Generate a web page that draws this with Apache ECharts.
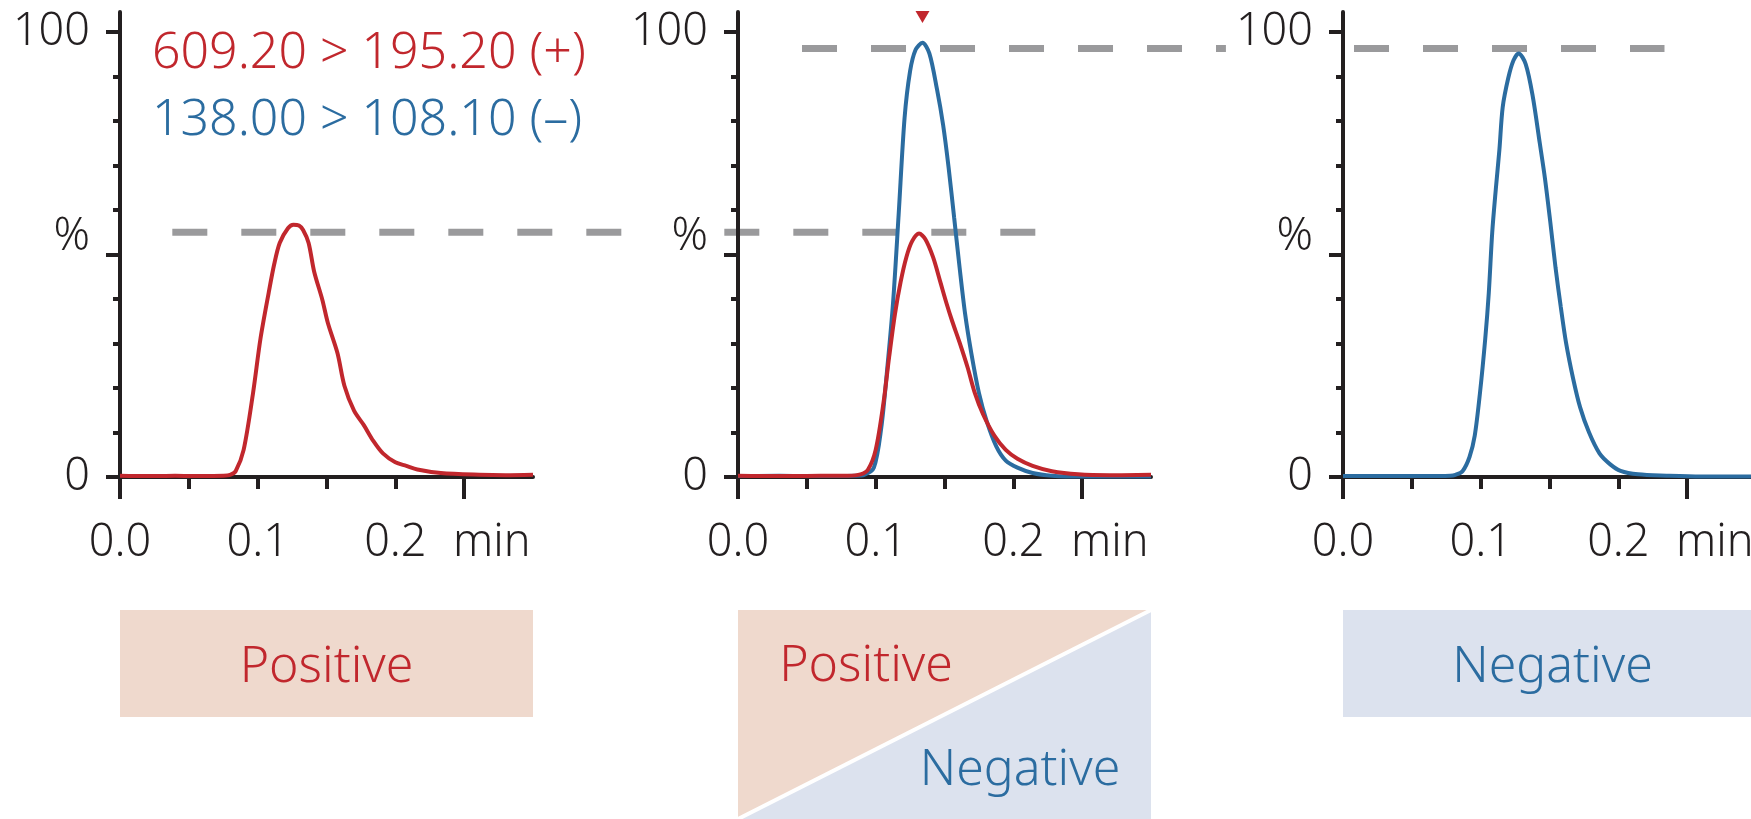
<!DOCTYPE html>
<html><head><meta charset="utf-8">
<style>html,body{margin:0;padding:0;background:#fff}#c{width:1751px;height:819px}</style>
<script src="https://cdn.jsdelivr.net/npm/echarts@6/dist/echarts.min.js"></script>
</head><body><div id="c"></div>
<script>
// ---------- data ----------
const seriesNames = ['609.20 > 195.20 (+)', '138.00 > 108.10 (–)'];
const p1Red = [[0,0.3],[0.02,0.2],[0.04,0.3],[0.06,0.2],[0.075,0.3],[0.08,0.5],[0.084,1.3],[0.0898,6.1],[0.0967,19],[0.102,31],[0.108,41.4],[0.112,47.8],[0.116,52.6],[0.122,55.9],[0.126,56.7],[0.13,56.5],[0.133,55.5],[0.137,52.6],[0.141,46.2],[0.147,39.8],[0.151,34.6],[0.158,27.8],[0.163,20.5],[0.17,14.9],[0.177,11.7],[0.184,8.1],[0.191,5.3],[0.2,3.3],[0.208,2.5],[0.216,1.7],[0.233,0.9],[0.261,0.5],[0.28,0.4],[0.3,0.5]];
const p2Blue = [[0,0.2],[0.03,0.3],[0.06,0.2],[0.085,0.3],[0.0917,0.5],[0.0987,2.1],[0.104,10.9],[0.108,23],[0.1126,39],[0.1167,59],[0.121,80.7],[0.125,91.2],[0.129,96],[0.134,97.6],[0.139,95.2],[0.1445,87.2],[0.149,79.1],[0.153,69.5],[0.157,58.3],[0.161,47],[0.165,36.6],[0.1695,27.8],[0.175,18.9],[0.1807,12.5],[0.1876,6.9],[0.1945,3.7],[0.203,2.1],[0.214,0.9],[0.228,0.3],[0.25,0.1],[0.3,0.1]];
const p2Red = [[0,0.3],[0.03,0.2],[0.06,0.3],[0.08,0.3],[0.089,0.6],[0.0945,1.7],[0.1,6.1],[0.1056,16.5],[0.1098,27],[0.114,36.6],[0.1181,43.8],[0.1223,49.4],[0.1265,53],[0.1315,54.7],[0.136,53.5],[0.1417,49.4],[0.147,43.8],[0.1515,39],[0.1556,35],[0.161,30.2],[0.1668,24.6],[0.172,18.9],[0.178,14.1],[0.1862,9.3],[0.1945,6.1],[0.203,4.1],[0.214,2.5],[0.228,1.3],[0.247,0.6],[0.27,0.4],[0.3,0.5]];
const p3Blue = [[0,0.2],[0.03,0.2],[0.06,0.2],[0.078,0.3],[0.0817,0.5],[0.0868,1.3],[0.0919,4.5],[0.0957,9.3],[0.0995,18.9],[0.1033,31],[0.1059,41.4],[0.1084,55],[0.111,64.7],[0.1136,73.5],[0.116,83.1],[0.12,89.6],[0.1238,93.6],[0.1276,95.2],[0.1327,92.8],[0.1378,85.6],[0.1429,75.1],[0.1467,67.1],[0.1505,57.5],[0.1544,47],[0.1582,38.2],[0.162,30.2],[0.1671,22.2],[0.1722,15.7],[0.1786,10.1],[0.1863,5.3],[0.1939,2.9],[0.2016,1.4],[0.2143,0.6],[0.235,0.3],[0.26,0.1],[0.3,0.1]];
const xLabelValues = [0, 0.1, 0.2];
const xTickLabels = ['0.0', '0.1', '0.2'];
const xUnitLabel = 'min';
const xUnitAt = 0.27;
const xMinorTicks = [0.05, 0.1, 0.15, 0.2];
const xMajorTicks = [0, 0.25];
const yLabelValues = [0, 50, 100];
const yTickLabels = ['0', '%', '100'];
const yMinorTicks = [10, 20, 30, 40, 60, 70, 80, 90];
const refLevels = [55, 96.3];          // dashed reference levels (%)
const refPanels = [0, 1];              // panel whose axes define the level
const refFrom = [0.038, 0.0465];       // x extent in that panel's minutes
const refTo = [0.665, 0.673];
const apexMarker = [0.134, 103.4];
const modeLabels = ['Positive', 'Negative'];

// ---------- style ----------
const AX = '#231f20', RED = '#c1272d', BLUE = '#2b6ca0', DASH = '#9a9a9c';
const PEACH = '#efd9cd', LBLUE = '#dce2ee';
const FONT = '"Noto Sans", "Open Sans", sans-serif';
const FW = 300;
const lefts = [120, 738, 1343], W = 413, TOP = 12, H = 465;

const grids = [], xAxes = [], yAxes = [];
lefts.forEach((l, i) => {
  grids.push({left: l, top: TOP, width: W, height: H, outerBoundsMode: 'none', containLabel: false});
  xAxes.push({
    type: 'value', gridIndex: i, min: 0, max: 0.3, position: 'bottom',
    axisLine: {show: true, onZero: false, lineStyle: {color: AX, width: 4}},
    axisTick: {show: true, length: 12, customValues: xMinorTicks, lineStyle: {color: AX, width: 4}},
    axisLabel: {show: true, customValues: xLabelValues.concat([xUnitAt]), fontSize: 45, fontWeight: FW, fontFamily: FONT, color: AX, margin: 44,
      formatter: v => { if (Math.abs(v - xUnitAt) < 1e-6) return xUnitLabel; const k = xLabelValues.findIndex(t => Math.abs(t - v) < 1e-6); return k >= 0 ? xTickLabels[k] : ''; }},
    splitLine: {show: false}
  });
  xAxes.push({
    type: 'value', gridIndex: i, min: 0, max: 0.3, position: 'bottom',
    axisLine: {show: false, onZero: false},
    axisTick: {show: true, length: 22, customValues: xMajorTicks, lineStyle: {color: AX, width: 4}},
    axisLabel: {show: false}, splitLine: {show: false}
  });
  yAxes.push({
    type: 'value', gridIndex: i, min: 0, max: 104.5, position: 'left',
    axisLine: {show: true, onZero: false, lineStyle: {color: AX, width: 4}},
    axisTick: {show: true, length: 7, customValues: yMinorTicks, lineStyle: {color: AX, width: 4}},
    axisLabel: {show: true, customValues: yLabelValues, fontSize: 45, fontWeight: FW, fontFamily: FONT, color: AX, margin: 22,
      backgroundColor: '#fff', padding: [0, 8, 0, 10],
      formatter: v => { const k = yLabelValues.indexOf(v); const s = k >= 0 ? yTickLabels[k] : ''; return s === '%' ? '{p|%}' : s; },
      rich: {p: {fontSize: 45, fontWeight: FW, fontFamily: FONT, color: AX, padding: [0, 0, 34, 16]}}},
    splitLine: {show: false}
  });
  yAxes.push({
    type: 'value', gridIndex: i, min: 0, max: 104.5, position: 'left',
    axisLine: {show: false, onZero: false},
    axisTick: {show: true, length: 14, customValues: yLabelValues, lineStyle: {color: AX, width: 4}},
    axisLabel: {show: false}, splitLine: {show: false}
  });
});

function lineSeries(name, data, panel, color, extra) {
  return Object.assign({
    type: 'line', name, data, xAxisIndex: 2 * panel, yAxisIndex: 2 * panel,
    showSymbol: false, symbol: 'none', smooth: 0.3, z: 3,
    lineStyle: {color, width: 4}, itemStyle: {color}
  }, extra || {});
}

const series = [
  lineSeries(seriesNames[0], p1Red, 0, RED),
  lineSeries(seriesNames[1], p2Blue, 1, BLUE, {
    markPoint: {symbol: 'triangle', symbolRotate: 180, symbolSize: [14, 12], itemStyle: {color: RED}, label: {show: false},
      data: [{coord: apexMarker}]}
  }),
  lineSeries(seriesNames[0], p2Red, 1, RED),
  lineSeries(seriesNames[1], p3Blue, 2, BLUE)
];

const chart = echarts.init(document.getElementById('c'), null, {renderer: 'canvas'});
chart.setOption({
  backgroundColor: '#fff',
  animation: false,
  grid: grids, xAxis: xAxes, yAxis: yAxes, series,
  legend: {
    orient: 'vertical', left: 142, top: 24, itemWidth: 0, itemHeight: 0, itemGap: 17, selectedMode: false,
    textStyle: {fontSize: 50, fontWeight: FW, fontFamily: FONT, lineHeight: 50},
    data: [{name: seriesNames[0], icon: 'rect', textStyle: {color: RED}}, {name: seriesNames[1], icon: 'rect', textStyle: {color: BLUE}}]
  }
});

// dashed reference lines across panels, via the library's scales
const gEls = [];
refLevels.forEach((lvl, i) => {
  const a = chart.convertToPixel({gridIndex: refPanels[i]}, [refFrom[i], lvl]);
  const b = chart.convertToPixel({gridIndex: refPanels[i]}, [refTo[i], lvl]);
  gEls.push({type: 'line', z: -1, silent: true,
    shape: {x1: a[0], y1: a[1], x2: b[0], y2: b[1]},
    style: {stroke: DASH, lineWidth: 7, lineDash: [35, 34], lineCap: 'butt'}});
});

// mode boxes below the panels
const boxTop = 610, boxH = 107, midH = 209;
const txt = (s, x, y, c) => ({type: 'text', x, y, z: 5, silent: true,
  style: {text: s, fill: c, fontSize: 50, fontWeight: FW, fontFamily: FONT, align: 'center', verticalAlign: 'middle'}});
const L0 = lefts[0], L1 = lefts[1], L2 = lefts[2];
gEls.push({type: 'rect', z: 1, silent: true, shape: {x: L0, y: boxTop, width: W, height: boxH}, style: {fill: PEACH}});
gEls.push(txt(modeLabels[0], L0 + W / 2, boxTop + boxH / 2 + 4, RED));
gEls.push({type: 'polygon', z: 1, silent: true, shape: {points: [[L1, boxTop], [L1 + W, boxTop], [L1, boxTop + midH]]}, style: {fill: PEACH}});
gEls.push({type: 'polygon', z: 1, silent: true, shape: {points: [[L1 + W, boxTop], [L1 + W, boxTop + midH], [L1, boxTop + midH]]}, style: {fill: LBLUE}});
gEls.push({type: 'line', z: 2, silent: true, shape: {x1: L1 + W, y1: boxTop, x2: L1, y2: boxTop + midH}, style: {stroke: '#fff', lineWidth: 4}});
gEls.push(txt(modeLabels[0], L1 + 128, boxTop + 57, RED));
gEls.push(txt(modeLabels[1], L1 + 282, boxTop + 161, BLUE));
gEls.push({type: 'rect', z: 1, silent: true, shape: {x: L2, y: boxTop, width: W, height: boxH}, style: {fill: LBLUE}});
gEls.push(txt(modeLabels[1], L2 + W / 2 + 3, boxTop + boxH / 2 + 4, BLUE));

chart.setOption({graphic: {elements: gEls}});
</script>
</body></html>
